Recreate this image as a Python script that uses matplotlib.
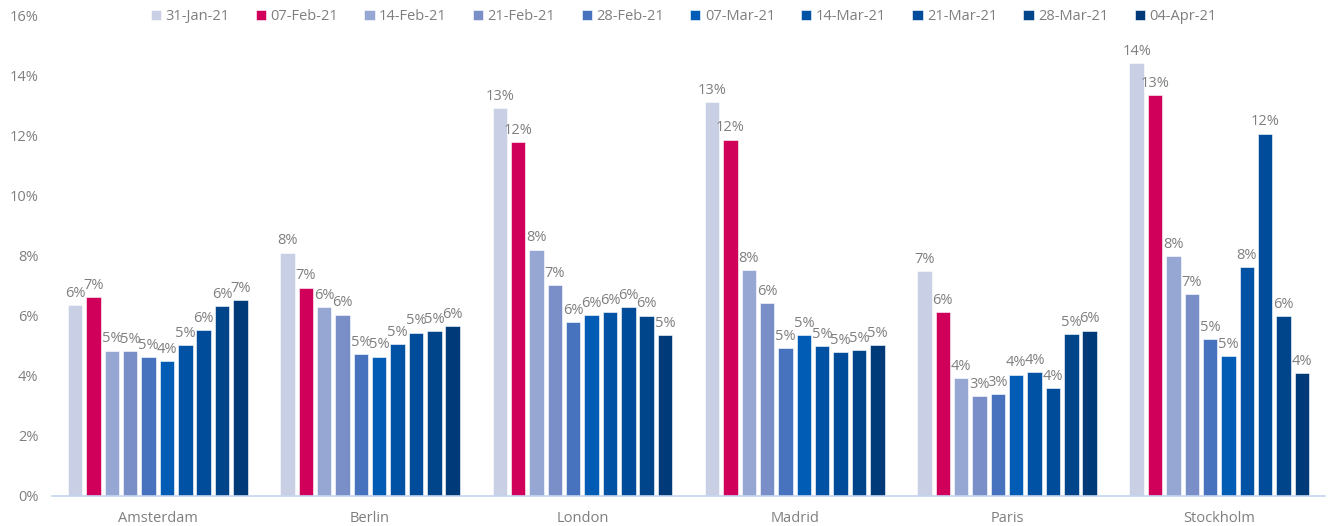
import numpy as np
import matplotlib
matplotlib.use('Agg')
import matplotlib.pyplot as plt
from matplotlib.ticker import FuncFormatter

# cities on the x axis, weeks as series
cities = ['Amsterdam', 'Berlin', 'London', 'Madrid', 'Paris', 'Stockholm']
weeks = ['31-Jan-21', '07-Feb-21', '14-Feb-21', '21-Feb-21', '28-Feb-21',
         '07-Mar-21', '14-Mar-21', '21-Mar-21', '28-Mar-21', '04-Apr-21']

# values in percent, one list per week (order = cities)
jan31 = [6.37, 8.11, 12.93, 13.12, 7.48, 14.44]
feb07 = [6.63, 6.94, 11.79, 11.88, 6.12, 13.37]
feb14 = [4.84, 6.28, 8.21, 7.53, 3.92, 8.00]
feb21 = [4.83, 6.04, 7.02, 6.43, 3.31, 6.73]
feb28 = [4.63, 4.71, 5.78, 4.93, 3.38, 5.21]
mar07 = [4.48, 4.64, 6.03, 5.37, 4.04, 4.67]
mar14 = [5.03, 5.06, 6.13, 4.98, 4.13, 7.63]
mar21 = [5.53, 5.44, 6.29, 4.80, 3.59, 12.08]
mar28 = [6.32, 5.48, 6.01, 4.85, 5.40, 6.00]
apr04 = [6.53, 5.66, 5.35, 5.02, 5.51, 4.10]
series = [jan31, feb07, feb14, feb21, feb28, mar07, mar14, mar21, mar28, apr04]

colors = ['#C9CFE4', '#D0005A', '#97A7D3', '#7A8FC7', '#4672BE',
          '#005CB4', '#0052A5', '#004C9B', '#00448A', '#003A78']

plt.rcParams['font.family'] = ['Open Sans', 'DejaVu Sans']
grey = '#7F7F7F'

fig = plt.figure(figsize=(13.3, 5.26), dpi=100)
ax = fig.add_axes([0.0388, 0.0576, 0.9578, 0.912])

x = np.arange(len(cities))
step = 0.0865
width = 0.068
for i, (name, vals, c) in enumerate(zip(weeks, series, colors)):
    pos = x + (i - 4.5) * step
    bars = ax.bar(pos, vals, width, color=c, label=name, edgecolor='white', linewidth=0.4)
    for b, v in zip(bars, vals):
        ax.annotate('{:.0f}%'.format(v), (b.get_x() + b.get_width() / 2, v),
                    xytext=(0, 3), textcoords='offset points',
                    ha='center', va='bottom', fontsize=10.5, color=grey)

ax.set_xlim(-0.5, 5.5)
ax.set_ylim(0, 16)
ax.set_yticks(range(0, 17, 2))
ax.yaxis.set_major_formatter(FuncFormatter(lambda v, p: '{:.0f}%'.format(v)))
ax.set_xticks(x)
ax.set_xticklabels(cities)
ax.tick_params(length=0, colors=grey, labelsize=10.5)
ax.tick_params(axis='y', pad=9.5)
ax.tick_params(axis='x', pad=11)
for s in ['top', 'right', 'left']:
    ax.spines[s].set_visible(False)
ax.spines['bottom'].set_color('#C5D6F0')
ax.spines['bottom'].set_linewidth(1.2)
ax.patch.set_alpha(0)

fig.legend(loc='upper center', bbox_to_anchor=(0.514, 1.008), ncol=10, frameon=False,
           fontsize=10.5, handlelength=0.7, handleheight=0.7, handletextpad=0.3,
           columnspacing=1.8, labelcolor=grey)

fig.savefig('out.png', dpi=100)
